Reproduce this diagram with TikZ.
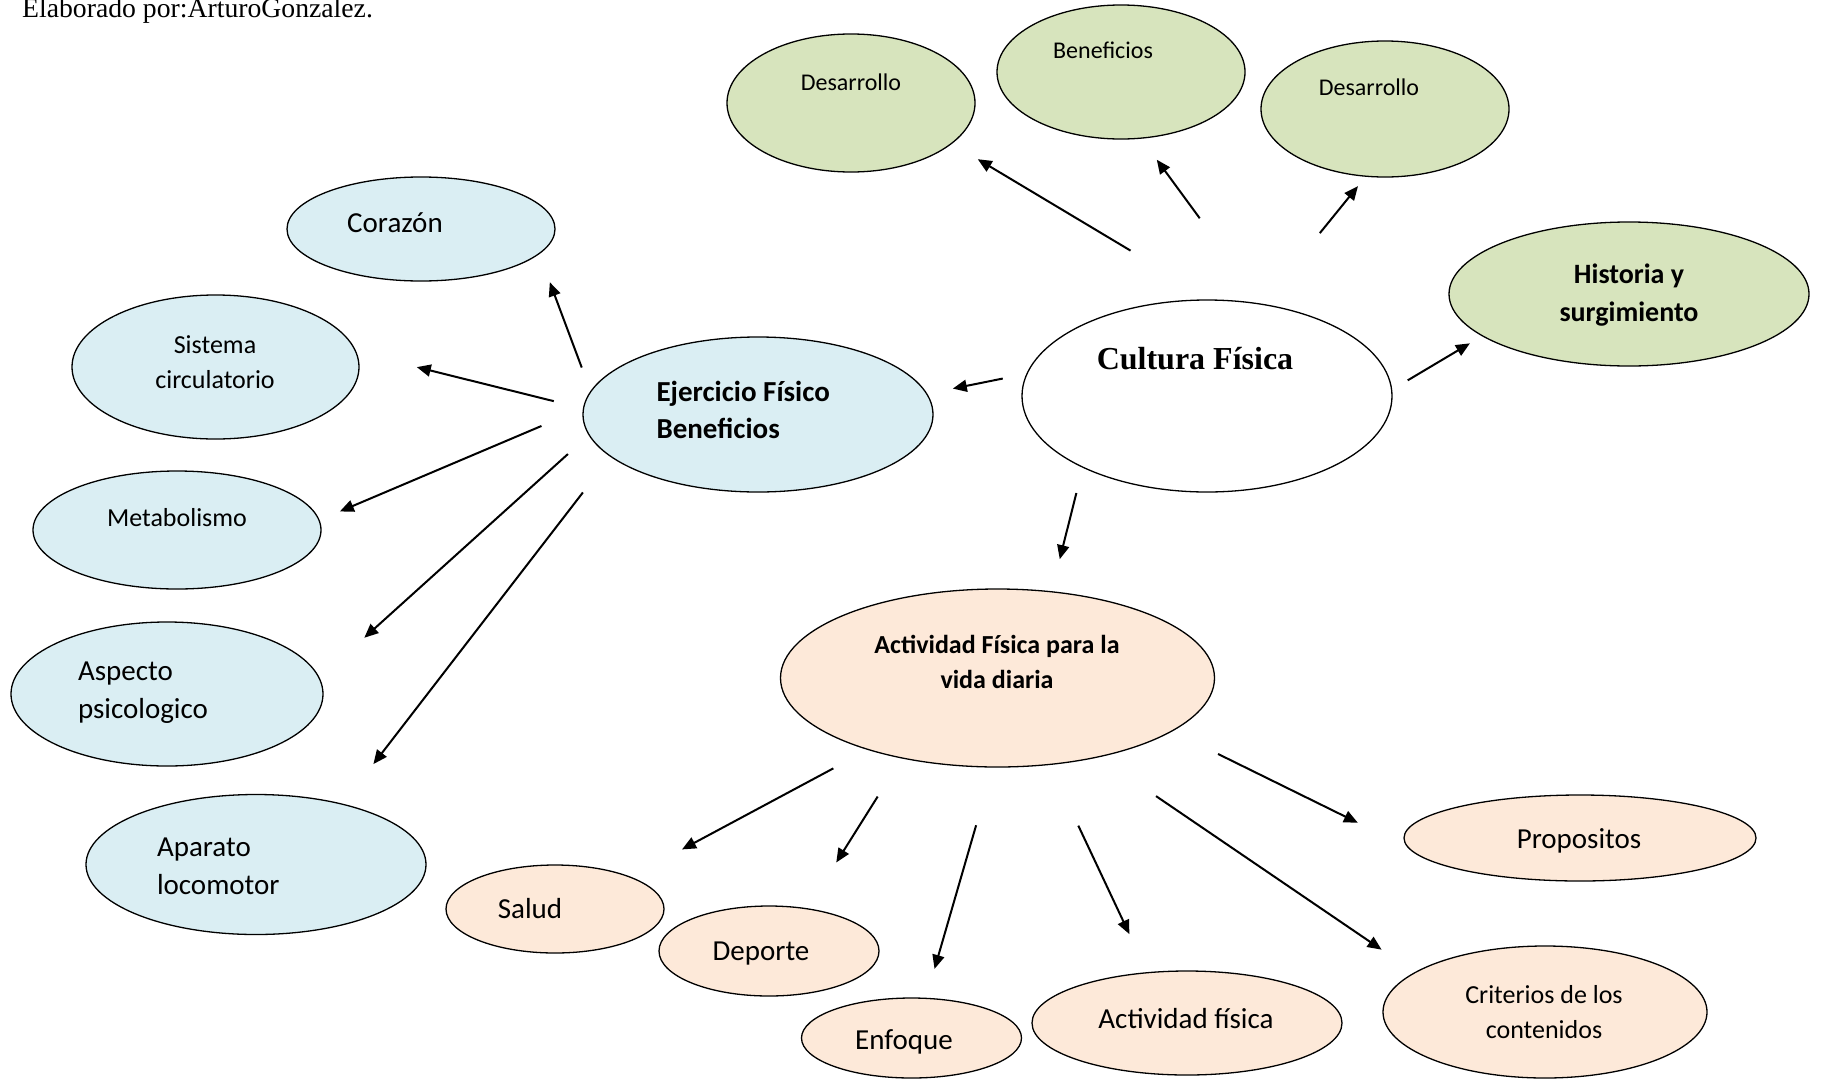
\documentclass[tikz,border=0pt]{standalone}
\usepackage{fontspec}
\setmainfont{Carlito}
\newfontfamily\timesf{Liberation Serif}
\usepackage{xcolor}
\usepackage{tikz}
\usetikzlibrary{arrows.meta, shapes, positioning}
\definecolor{cfblue}{RGB}{218, 238, 243}
\definecolor{cfgreen}{RGB}{215, 228, 189}
\definecolor{cfpeach}{RGB}{253, 233, 217}

\begin{document}
\begin{tikzpicture}[x=1pt, y=-1pt,
    elip/.style={ellipse, draw=black, line width=1.3pt, inner sep=0pt},
    azul/.style={elip, fill=cfblue},
    verde/.style={elip, fill=cfgreen},
    salmon/.style={elip, fill=cfpeach},
    tam/.style 2 args={minimum width=#1pt, minimum height=#2pt},
    flecha/.style={-{Triangle[length=14pt, width=12pt]}, line width=2pt},
    t24/.style={font=\fontsize{24}{30}\selectfont},
    t26/.style={font=\fontsize{26}{35}\selectfont, align=center},
    t29/.style={font=\fontsize{29}{38}\selectfont, align=left}]
    \useasboundingbox (0,0) rectangle (1822,1079);

    \node[anchor=base west, font=\timesf\fontsize{27.7}{32}\selectfont, inner sep=0pt] (autor) at (22,17.5) {Elaborado por:ArturoGonzalez.};

    % Centro
    \node[elip, fill=white, tam={370}{192}] (cultura) at (1207,396) {};
    \node[font=\timesf\bfseries\fontsize{32}{38}\selectfont] (cultura-t) at (1195,359) {Cultura Física};

    % Arriba (verde)
    \node[verde, tam={248}{138}] (des1) at (851,103) {};
    \node[t24] (des1-t) at (851,82) {Desarrollo};
    \node[verde, tam={248}{134}] (benef) at (1121,72) {};
    \node[t24] (benef-t) at (1103,50) {Beneficios};
    \node[verde, tam={248}{136}] (des2) at (1385,109) {};
    \node[t24] (des2-t) at (1369,87) {Desarrollo};
    \node[verde, tam={360}{144}] (hist) at (1629,294) {};
    \node[align=center, font=\bfseries\fontsize{28}{38}\selectfont] (hist-t) at (1629,295) {Historia y\\surgimiento};

    % Izquierda (azul)
    \node[azul, tam={350}{155}] (ejer) at (758,414.5) {};
    \node[t29, font=\bfseries\fontsize{29}{37}\selectfont, anchor=west] (ejer-t) at (653,410) {Ejercicio Físico\\Beneficios};
    \node[azul, tam={268}{104}] (corazon) at (421,229) {};
    \node[t29] (corazon-t) at (395,223) {Corazón};
    \node[azul, tam={287}{144}] (sistema) at (215.5,367) {};
    \node[t26] (sistema-t) at (215,362) {Sistema\\circulatorio};
    \node[azul, tam={288}{118}] (metab) at (177,530) {};
    \node[t26] (metab-t) at (177,518) {Metabolismo};
    \node[azul, tam={312}{144}] (aspecto) at (167,694) {};
    \node[t29, anchor=west] (aspecto-t) at (74.5,693) {Aspecto\\psicologico};
    \node[azul, tam={340}{140}] (aparato) at (256,864.5) {};
    \node[t29, anchor=west] (aparato-t) at (153.5,866.5) {Aparato\\locomotor};

    % Abajo (salmon)
    \node[salmon, tam={434}{178}] (activ) at (997.5,678) {};
    \node[t26, font=\bfseries\fontsize{26}{35}\selectfont] (activ-t) at (997,662) {Actividad Física para la\\vida diaria};
    \node[salmon, tam={218}{88}] (salud) at (555,909) {};
    \node[t29] (salud-t) at (530,908.5) {Salud};
    \node[salmon, tam={220}{90}] (deporte) at (769,951) {};
    \node[t29] (deporte-t) at (761,953.5) {Deporte};
    \node[salmon, tam={220}{80}] (enfoque) at (911.5,1038) {};
    \node[t29] (enfoque-t) at (904,1042) {Enfoque};
    \node[salmon, tam={310}{104}] (actfis) at (1187,1023) {};
    \node[t29] (actfis-t) at (1186,1019) {Actividad física};
    \node[salmon, tam={352}{86}] (propos) at (1580,838) {};
    \node[t29] (propos-t) at (1579,841) {Propositos};
    \node[salmon, tam={324}{132}] (criter) at (1545,1012) {};
    \node[t26] (criter-t) at (1544,1012) {Criterios de los\\contenidos};

    % Flechas desde Cultura Física
    \draw[flecha, shorten <=95pt, shorten >=30pt] (cultura.87) -- (des1.338);
    \draw[flecha, shorten <=106pt, shorten >=26pt] (cultura.59) -- (benef.287);
    \draw[flecha, shorten <=91pt, shorten >=12pt] (cultura.59) -- (des2.254);
    \draw[flecha, shorten <=18pt, shorten >=14pt] (cultura.2) -- (hist.196);
    \draw[flecha, shorten <=24pt, shorten >=26pt] (cultura.173) -- (ejer.7);
    \draw[flecha, shorten <=26pt, shorten >=33pt] (cultura.210) -- (activ.58);

    % Flechas desde Ejercicio
    \draw[flecha, shorten <=25pt, shorten >=30pt] (ejer.172) -- (corazon.348);
    \draw[flecha, shorten <=30pt, shorten >=62pt] (ejer.178) -- (sistema.6);
    \draw[flecha, shorten <=45pt, shorten >=22pt] (ejer.178) -- (metab.4);
    \draw[flecha, shorten <=28pt, shorten >=60pt] (ejer.187) -- (aspecto.6);
    \draw[flecha, shorten <=45pt, shorten >=50pt] (ejer.196) -- (aparato.35);

    % Flechas desde Actividad
    \draw[flecha, shorten <=39pt, shorten >=58pt] (activ.209) -- (salud.23);
    \draw[flecha, shorten <=45pt, shorten >=54pt] (activ.220) -- (deporte.48);
    \draw[flecha, shorten <=60pt, shorten >=30pt] (activ.267) -- (enfoque.70);
    \draw[flecha, shorten <=67pt, shorten >=42pt] (activ.301) -- (actfis.128);
    \draw[flecha, shorten <=69pt, shorten >=40pt] (activ.322) -- (criter.163);
    \draw[flecha, shorten <=51pt, shorten >=55pt] (activ.343) -- (propos.183);
\end{tikzpicture}
\end{document}
